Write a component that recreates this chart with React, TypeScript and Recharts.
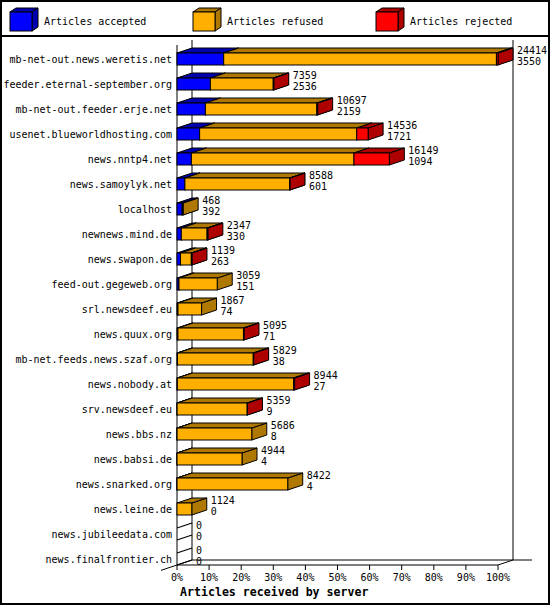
import { Bar, BarChart, LabelList, XAxis, YAxis } from "recharts";

const SERVERS = [
  "mb-net-out.news.weretis.net",
  "feeder.eternal-september.org",
  "mb-net-out.feeder.erje.net",
  "usenet.blueworldhosting.com",
  "news.nntp4.net",
  "news.samoylyk.net",
  "localhost",
  "newnews.mind.de",
  "news.swapon.de",
  "feed-out.gegeweb.org",
  "srl.newsdeef.eu",
  "news.quux.org",
  "mb-net.feeds.news.szaf.org",
  "news.nobody.at",
  "srv.newsdeef.eu",
  "news.bbs.nz",
  "news.babsi.de",
  "news.snarked.org",
  "news.leine.de",
  "news.jubileedata.com",
  "news.finalfrontier.ch",
];

// printed next to each bar: total on top, accepted below
const TOTALS = [24414, 7359, 10697, 14536, 16149, 8588, 468, 2347, 1139, 3059, 1867, 5095, 5829, 8944, 5359, 5686, 4944, 8422, 1124, 0, 0];
const ACCEPTED = [3550, 2536, 2159, 1721, 1094, 601, 392, 330, 263, 151, 74, 71, 38, 27, 9, 8, 4, 4, 0, 0, 0];
const REFUSED = [20744, 4783, 8478, 11948, 12365, 7972, 76, 1957, 826, 2908, 1793, 4984, 5761, 8837, 5330, 5678, 4940, 8418, 1124, 0, 0];
const REJECTED = [120, 40, 60, 867, 2690, 15, 0, 60, 50, 0, 0, 40, 30, 80, 20, 0, 0, 0, 0, 0, 0];

const TICK_PERCENTS = [0, 10, 20, 30, 40, 50, 60, 70, 80, 90, 100];

const SERIES = [
  { key: "accepted", name: "Articles accepted", front: "#0000FF", dark: "#0000B0" },
  { key: "refused", name: "Articles refused", front: "#FFAF00", dark: "#AF7800" },
  { key: "rejected", name: "Articles rejected", front: "#FF0000", dark: "#AF0000" },
];

const AXIS_TITLE = "Articles received by server";

const MAX_TOTAL = Math.max(...TOTALS);
const MONO = '"DejaVu Sans Mono", "Liberation Mono", monospace';

const W = 550;
const H = 605;
const PLOT = { left: 177, right: 498, top: 40, bottom: 565 };
const BAND = (PLOT.bottom - PLOT.top) / SERVERS.length;
const DX = 15; // 3d depth
const DY = 5;
const FRONT_H = 12;

const data = SERVERS.map((name, i) => ({
  name,
  accepted: ACCEPTED[i],
  refused: REFUSED[i],
  rejected: REJECTED[i],
}));

function block(front: string, dark: string) {
  return (props: any) => {
    const { x, y, width, height } = props;
    if (!(width > 0.01)) return <g />;
    const yb = y + height;
    const yt = yb - FRONT_H;
    const x1 = x + width;
    return (
      <g stroke="#000" strokeWidth={1} strokeLinejoin="miter">
        <polygon
          points={`${x1},${yt} ${x1 + DX},${yt - DY} ${x1 + DX},${yb - DY} ${x1},${yb}`}
          fill={dark}
        />
        <polygon
          points={`${x},${yt} ${x1},${yt} ${x1 + DX},${yt - DY} ${x + DX},${yt - DY}`}
          fill={dark}
        />
        <rect x={x} y={yt} width={width} height={FRONT_H} fill={front} />
      </g>
    );
  };
}

const CategoryTick = (p: any) => (
  <text
    x={PLOT.left - 5}
    y={p.y + 10.5}
    textAnchor="end"
    fontFamily={MONO}
    fontSize={10}
    fill="#000"
  >
    {p.payload.value}
  </text>
);

const ValueLabel = (p: any) => {
  const vb = p.viewBox ?? {};
  const bx = Number(vb.x ?? p.x ?? PLOT.left);
  const by = Number(vb.y ?? p.y ?? 0);
  const bw = Number(vb.width ?? p.width ?? 0) || 0;
  const i = p.index;
  const lx = bx + bw + DX + 4;
  return (
    <g>
      <text x={lx} y={by + 14} fontFamily={MONO} fontSize={10} fill="#000">
        {TOTALS[i]}
      </text>
      <text x={lx} y={by + 25} fontFamily={MONO} fontSize={10} fill="#000">
        {ACCEPTED[i]}
      </text>
    </g>
  );
};

function Frame() {
  const backL = PLOT.left + DX;
  const backR = PLOT.right + DX;
  const floor = PLOT.bottom - DY;
  const emptyRows = SERVERS.map((_, i) => i).filter((i) => TOTALS[i] === 0);
  return (
    <svg width={W} height={H} style={{ position: "absolute", left: 0, top: 0 }}>
      <rect x={1} y={1} width={W - 2} height={H - 2} fill="#fff" stroke="#000" strokeWidth={2} />
      <line x1={0} y1={36} x2={W} y2={36} stroke="#000" strokeWidth={2} />
      {SERIES.map((s, i) => {
        const bx = 10 + i * 183;
        return (
          <g key={s.key}>
            <polygon points={`${bx},12 ${bx + 22},12 ${bx + 28},8 ${bx + 6},8`} fill={s.dark} stroke="#000" />
            <polygon points={`${bx + 22},12 ${bx + 28},8 ${bx + 28},27 ${bx + 22},31`} fill={s.dark} stroke="#000" />
            <rect x={bx} y={12} width={22} height={19} fill={s.front} stroke="#000" />
            <text x={bx + 34} y={25} fontFamily={MONO} fontSize={10} fill="#000">
              {s.name}
            </text>
          </g>
        );
      })}
      <g stroke="#000" strokeWidth={1} fill="none">
        <line x1={backL} y1={PLOT.top} x2={backL} y2={floor} />
        <line x1={backR} y1={PLOT.top} x2={backR} y2={floor} />
        <line x1={backL} y1={floor} x2={backR + 19} y2={floor} />
        <line x1={PLOT.left - 16} y1={PLOT.bottom + 5.33} x2={backL} y2={floor} />
        <line x1={PLOT.right} y1={PLOT.bottom} x2={backR} y2={floor} />
        <line x1={PLOT.left} y1={PLOT.top + DY} x2={PLOT.left} y2={PLOT.bottom} />
      </g>
      {/* flat outline for rows that received nothing */}
      {emptyRows.map((i) => {
        const yb = PLOT.top + (i + 1) * BAND;
        const yt = yb - FRONT_H;
        return (
          <g key={`empty-${i}`}>
            <line x1={PLOT.left} y1={yt} x2={backL} y2={yt - DY} stroke="#000000" strokeWidth={1.2} />
            <line x1={PLOT.left} y1={yb} x2={backL} y2={yb - DY} stroke="#000000" strokeWidth={1.2} />
          </g>
        );
      })}
      <text
        x={180}
        y={596}
        fontFamily={MONO}
        fontWeight="bold"
        fontSize={11.6}
        fill="#000"
      >
        {AXIS_TITLE}
      </text>
    </svg>
  );
}

export default function App() {
  return (
    <div style={{ position: "absolute", left: 0, top: 0, width: W, height: H }}>
      <Frame />
      <div style={{ position: "absolute", left: 0, top: 0 }}>
        <BarChart
          width={W}
          height={H}
          data={data}
          layout="vertical"
          barCategoryGap={0}
          margin={{ top: PLOT.top, right: W - PLOT.right, bottom: 0, left: 0 }}
        >
          <XAxis
            type="number"
            domain={[0, MAX_TOTAL]}
            ticks={TICK_PERCENTS.map((p) => (p / 100) * MAX_TOTAL)}
            tickFormatter={(v: number) => `${Math.round((v / MAX_TOTAL) * 100)}%`}
            interval={0}
            height={H - PLOT.bottom}
            tickSize={5}
            tickMargin={4}
            stroke="#000"
            tick={{ fill: "#000", fontSize: 10, fontFamily: MONO }}
          />
          <YAxis
            type="category"
            dataKey="name"
            width={PLOT.left}
            interval={0}
            tickLine={false}
            axisLine={false}
            tick={CategoryTick}
          />
          {SERIES.map((s, i) => (
            <Bar
              key={s.key}
              dataKey={s.key}
              name={s.name}
              stackId="a"
              fill={s.front}
              isAnimationActive={false}
              shape={block(s.front, s.dark)}
            >
              {i === SERIES.length - 1 && <LabelList dataKey={s.key} content={ValueLabel} />}
            </Bar>
          ))}
        </BarChart>
      </div>
    </div>
  );
}
